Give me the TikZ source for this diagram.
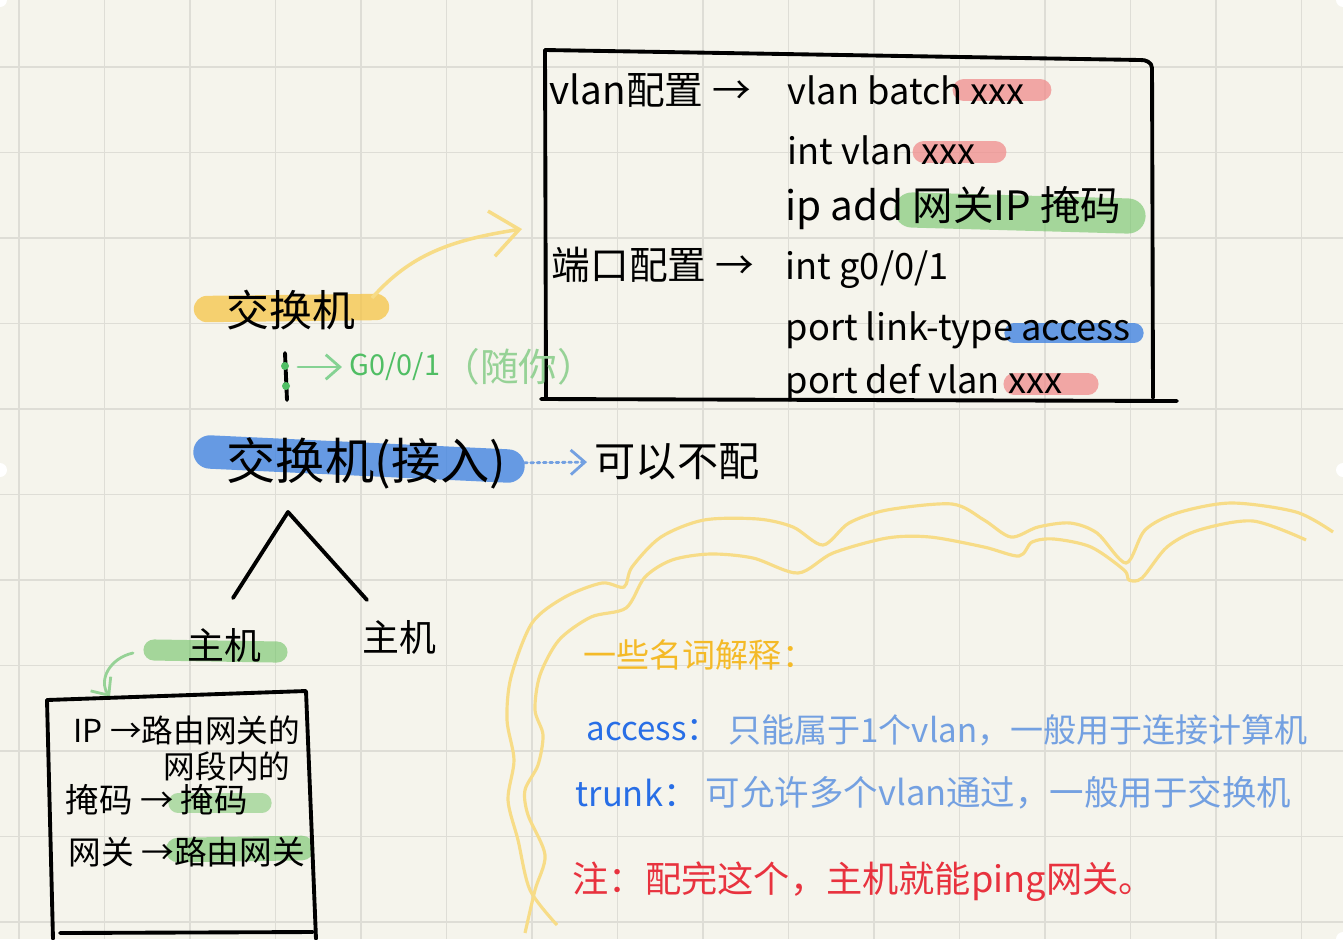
\documentclass[tikz,border=0pt]{standalone}
\usepackage{fontspec}
\setmainfont{Noto Sans CJK SC}
\usetikzlibrary{positioning,arrows.meta}
\newcommand{\fsz}[1]{\fontsize{#1}{#1}\selectfont}

\begin{document}
\begin{tikzpicture}[x=0.01cm, y=-0.01cm,
    lbl/.style={anchor=west, inner sep=0pt},
    pen/.style={black, line width=1.1pt, line cap=round, line join=round},
    hl/.style={line width=#1, line cap=round, opacity=0.75},
    pencil/.style={line width=0.8pt, line cap=round, -{Straight Barb[length=4pt,width=7pt]}}]
    \definecolor{paper}{RGB}{245,244,236}
    \definecolor{gridc}{RGB}{222,221,214}
    \definecolor{myyel}{RGB}{246,196,70}
    \definecolor{myblu}{RGB}{55,125,225}
    \definecolor{myred}{RGB}{240,140,140}
    \definecolor{mygrn}{RGB}{110,195,100}
    \definecolor{mycloud}{RGB}{247,220,135}
    \definecolor{txtyel}{RGB}{244,186,40}
    \definecolor{txtblu}{RGB}{40,110,230}
    \definecolor{txtsky}{RGB}{115,160,225}
    \definecolor{txtred}{RGB}{232,50,62}
    \definecolor{txtgrn}{RGB}{80,190,100}
    \definecolor{txtmint}{RGB}{150,210,150}

    \useasboundingbox (0,0) rectangle (1343,939);
    \fill[paper] (0,0) rectangle (1343,939);
    \foreach \i in {0,...,15}
        \draw[gridc, line width=0.5pt] ({19+85.5*\i},0) -- ({19+85.5*\i},939);
    \foreach \j in {0,...,10}
        \draw[gridc, line width=0.5pt] (0,{67+85.5*\j}) -- (1343,{67+85.5*\j});
    \foreach \p in {(0,0),(1343,0),(0,470),(1343,470),(1343,939)}
        \fill[white] \p circle (7);

    % highlighter strokes
    \draw[hl=7.5pt, myyel] (207,309) -- (376,307);
    \draw[hl=9.5pt, myblu] (210,452) -- (508,466);
    \draw[hl=6.5pt, myred] (964,90) -- (1040,90);
    \draw[hl=6.5pt, myred] (924,152) -- (995,152);
    \draw[hl=10pt, mygrn, opacity=0.6] (912,210) -- (1128,216);
    \draw[hl=5.5pt, myblu] (1014,333) -- (1134,333);
    \draw[hl=6pt, myred] (1014,384) -- (1088,384);
    \draw[hl=6pt, mygrn, opacity=0.6] (154,650) -- (277,652);
    \draw[hl=5.5pt, mygrn, opacity=0.5] (178,803) -- (262,803);
    \draw[hl=7pt, mygrn, opacity=0.6] (178,850) -- (302,848);

    % config box
    \draw[pen] (545,50) -- (1140,60) to[out=5,in=90] (1152,68) -- (1153,398);
    \draw[pen] (545,50) -- (546,398);
    \draw[pen] (541,399) -- (1177,401);
    \node[lbl] (vcfg) at (549,90) {\fsz{11}vlan配置 →};
    \node[lbl] (cmd1) at (787,90) {\fsz{10.3}vlan batch xxx};
    \node[lbl] (cmd2) at (787,150) {\fsz{10.3}int vlan xxx};
    \node[lbl] (cmd3) at (785,208) {\fsz{11.5}ip add 网关IP 掩码};
    \node[lbl] (pcfg) at (551,265) {\fsz{11}端口配置 →};
    \node[lbl] (cmd4) at (785,270) {\fsz{10.3}int g0/0/1};
    \node[lbl] (cmd5) at (785,330) {\fsz{10.3}port link-type access};
    \node[lbl] (cmd6) at (785,383) {\fsz{10.3}port def vlan xxx};

    % switches and hosts
    \node[lbl] (sw1) at (226,310) {\fsz{12.2}交换机};
    \node[lbl, txtgrn] (g001) at (349,367) {\fsz{8.2}G0/0/1};
    \node[lbl, txtmint, right=0pt of g001] (suini) {\fsz{11}（随你）};
    \node[lbl] (sw2) at (226,463) {\fsz{14}交换机(接入)};
    \node[lbl] (nocfg) at (594,462) {\fsz{11.7}可以不配};
    \node[lbl] (host1) at (187,645) {\fsz{10.5}主机};
    \node[lbl] (host2) at (362,637) {\fsz{10.5}主机};

    \coordinate (swout) at (372,298);
    \coordinate (cfgin) at (522,229);
    \coordinate (linktop) at (285,353);
    \coordinate (linkbot) at (287,400);
    \coordinate (apex) at (288,512);
    \coordinate (h1top) at (233,598);
    \coordinate (h2top) at (367,600);
    \coordinate (h1out) at (133,653);
    \coordinate (ipin) at (110,697);

    \draw[mycloud, line width=1pt, -{Straight Barb[length=8pt,width=13pt]}]
        (swout) .. controls (410,255) and (450,240) .. (cfgin);
    \draw[pen] (linktop) -- (linkbot);
    \fill[txtgrn] (285,366) circle (4) (286,386) circle (4);
    \draw[pencil, txtgrn!70] (298,367) -- ([xshift=-2pt]g001.west);
    \draw[pencil, txtsky, densely dotted, shorten <=5pt, shorten >=2pt] (sw2.east) -- (nocfg.west);
    \draw[pen] (h1top) -- (apex) -- (h2top);
    \draw[pencil, txtmint] (h1out) .. controls (110,658) and (98,680) .. (ipin);

    % host note box
    \draw[pen] (47,700) -- (306,691) -- (316,939);
    \draw[pen] (47,700) -- (53,939);
    \draw[pen] (60,933) -- (313,932);
    \node[lbl] (ipnote) at (73,730) {\fsz{9}IP →路由网关的};
    \node[lbl] (ipnote2) at (163,766) {\fsz{9}网段内的};
    \node[lbl] (masknote) at (65,800) {\fsz{9.5}掩码 → 掩码};
    \node[lbl] (gwnote) at (68,852) {\fsz{9.3}网关 →路由网关};

    % terms cloud
    \draw[mycloud, line width=0.9pt] plot[smooth, tension=0.5] coordinates {
        (557,925) (530,890) (518,840) (508,800) (514,760) (507,720) (511,677)
        (532,623) (565,597) (602,583) (624,587) (632,567) (661,537) (704,520)
        (758,519) (793,527) (823,545) (849,523) (887,510) (952,504) (984,520)
        (1011,537) (1038,527) (1070,523) (1097,533) (1126,563) (1145,530)
        (1177,513) (1231,503) (1296,512) (1333,532)};
    \draw[mycloud, line width=0.9pt] plot[smooth, tension=0.5] coordinates {
        (525,933) (535,890) (545,855) (528,815) (525,790) (538,765) (543,735)
        (535,710) (540,675) (559,640) (591,617) (626,608) (645,577) (672,560)
        (710,554) (753,558) (798,573) (833,553) (887,538) (930,537) (984,547)
        (1019,556) (1032,542) (1054,539) (1091,547) (1124,570) (1129,580)
        (1142,578) (1167,547) (1199,530) (1253,521) (1306,540)};
    \node[lbl, txtyel] (terms) at (583,655) {\fsz{9.4}一些名词解释：};
    \node[lbl, txtblu] (acc) at (586,730) {\fsz{9.4}access：};
    \node[lbl, txtsky, right=2pt of acc] (accdesc) {\fsz{9.4}只能属于1个vlan，一般用于连接计算机};
    \node[lbl, txtblu] (trk) at (575,793) {\fsz{9.8}trunk：};
    \node[lbl, txtsky, right=2pt of trk] (trkdesc) {\fsz{9.8}可允许多个vlan通过，一般用于交换机};
    \node[lbl, txtred] (pingnote) at (572,882) {\fsz{10.3}注：配完这个，主机就能ping网关。};
\end{tikzpicture}
\end{document}
